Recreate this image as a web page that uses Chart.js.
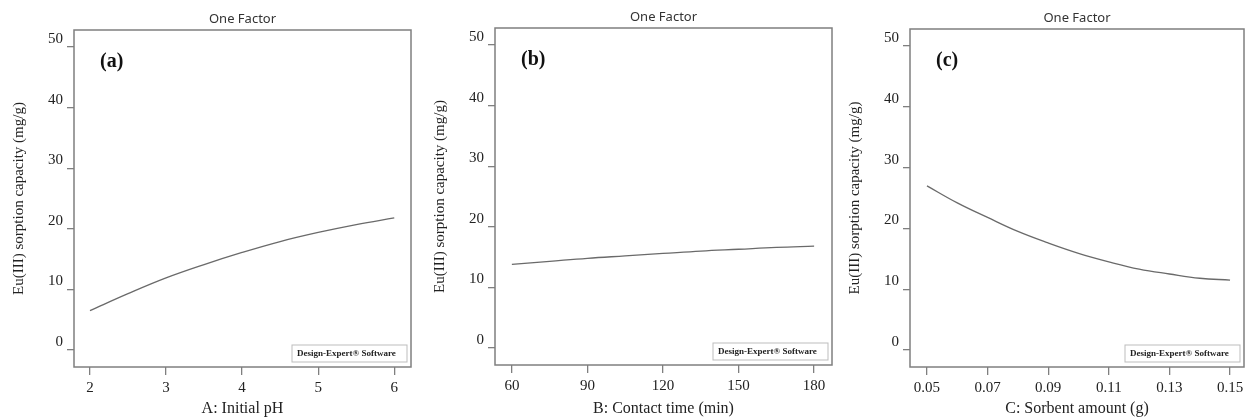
<!DOCTYPE html>
<html>
<head>
    <title>One Factor plots</title>
    <script src="https://cdn.jsdelivr.net/npm/chart.js"></script>
    <style>
        body { margin: 0; background: #fff; }
        #wrap { position: relative; width: 1245px; height: 418px; }
        .panel { position: absolute; top: 0; height: 418px; }
    </style>
</head>
<body>
<div id="wrap">
    <div class="panel" style="left:0; width:418px;"><canvas id="chartA"></canvas></div>
    <div class="panel" style="left:421px; width:415px;"><canvas id="chartB"></canvas></div>
    <div class="panel" style="left:836px; width:409px;"><canvas id="chartC"></canvas></div>
</div>
<script>
// values
const yTicks = [0, 10, 20, 30, 40, 50];

const phX = [2, 2.5, 3, 3.5, 4, 4.5, 5, 5.5, 6];
const phY = [6.5, 9.3, 11.9, 14.1, 16.1, 17.9, 19.4, 20.7, 21.8];
const phTicks = [2, 3, 4, 5, 6];

const timeX = [60, 75, 90, 105, 120, 135, 150, 165, 180];
const timeY = [13.8, 14.3, 14.8, 15.2, 15.6, 16.0, 16.3, 16.6, 16.8];
const timeTicks = [60, 90, 120, 150, 180];

const sorbX = [0.05, 0.06, 0.07, 0.08, 0.09, 0.10, 0.11, 0.12, 0.13, 0.14, 0.15];
const sorbY = [27.0, 24.2, 21.8, 19.5, 17.6, 15.9, 14.5, 13.3, 12.5, 11.8, 11.5];
const sorbTicks = [0.05, 0.07, 0.09, 0.11, 0.13, 0.15];

const serif = "'Times New Roman', 'Liberation Serif', serif";
const axisGray = '#7f7f7f';

// frame around the plot, panel letter and the software tag
const framePlugin = {
    id: 'frame',
    afterDraw(chart, args, opts) {
        const { ctx, chartArea: a } = chart;
        ctx.save();
        ctx.strokeStyle = axisGray;
        ctx.lineWidth = 1.5;
        ctx.strokeRect(a.left, a.top, a.right - a.left, a.bottom - a.top);

        ctx.fillStyle = '#111';
        ctx.font = 'bold 20px ' + serif;
        ctx.textBaseline = 'middle';
        ctx.fillText(opts.letter, a.left + 26, a.top + 32);

        const bw = 115, bh = 17;
        const bx = a.right - 4 - bw, by = a.bottom - 5 - bh;
        ctx.strokeStyle = '#bdbdbd';
        ctx.lineWidth = 1;
        ctx.strokeRect(bx, by, bw, bh);
        ctx.font = 'bold 9px ' + serif;
        ctx.fillStyle = '#222';
        ctx.fillText('Design-Expert\u00ae Software', bx + 5, by + bh / 2 + 0.5);
        ctx.restore();
    }
};

function makePanel(id, xs, ys, ticksX, cfg) {
    const points = xs.map((x, i) => ({ x: x, y: ys[i] }));
    const H = 418;
    return new Chart(document.getElementById(id), {
        type: 'scatter',
        data: {
            datasets: [{
                data: points,
                showLine: true,
                borderColor: '#6a6a6a',
                borderWidth: 1.3,
                pointRadius: 0,
                tension: 0.4,
                fill: false
            }]
        },
        options: {
            responsive: true,
            maintainAspectRatio: false,
            animation: false,
            layout: { padding: { left: 0, right: cfg.padRight, top: 0, bottom: 0 } },
            plugins: {
                legend: { display: false },
                tooltip: { enabled: false },
                title: {
                    display: true,
                    text: 'One Factor',
                    fullSize: false,
                    color: '#333',
                    font: { family: "'Noto Sans', sans-serif", size: 13, weight: 'normal' },
                    padding: { top: cfg.top - 18.8, bottom: 18.8 - 15.6 }
                },
                frame: { letter: cfg.letter }
            },
            scales: {
                x: {
                    type: 'linear',
                    min: cfg.xMin,
                    max: cfg.xMax,
                    afterBuildTicks: s => { s.ticks = ticksX.map(v => ({ value: v })); },
                    afterFit: s => { s.height = H - cfg.bottom; s.paddingLeft = 0; s.paddingRight = 0; },
                    grid: { drawOnChartArea: false, drawTicks: true, tickLength: 8, color: axisGray, lineWidth: 1.3 },
                    border: { display: false },
                    ticks: {
                        padding: 4,
                        color: '#222',
                        font: { family: serif, size: 15 },
                        callback: cfg.fmt
                    },
                    title: {
                        display: true,
                        text: cfg.xTitle,
                        color: '#222',
                        font: { family: serif, size: 16 },
                        padding: { top: 0, bottom: 0 }
                    }
                },
                y: {
                    type: 'linear',
                    min: -2.8,
                    max: 52.8,
                    afterBuildTicks: s => { s.ticks = yTicks.map(v => ({ value: v })); },
                    afterFit: s => { s.width = 74; s.paddingTop = 0; s.paddingBottom = 0; },
                    grid: { drawOnChartArea: false, drawTicks: true, tickLength: 7, color: axisGray, lineWidth: 1.3 },
                    border: { display: false },
                    ticks: {
                        padding: 4,
                        labelOffset: -8,
                        color: '#222',
                        font: { family: serif, size: 15 }
                    },
                    title: {
                        display: true,
                        text: 'Eu(III) sorption capacity (mg/g)',
                        color: '#222',
                        font: { family: serif, size: 15 },
                        padding: { top: 10, bottom: 0 }
                    }
                }
            }
        },
        plugins: [framePlugin]
    });
}

makePanel('chartA', phX, phY, phTicks, {
    letter: '(a)', xTitle: 'A: Initial pH', xMin: 1.79, xMax: 6.22,
    top: 30, bottom: 367, padRight: 7, fmt: v => String(v)
});
makePanel('chartB', timeX, timeY, timeTicks, {
    letter: '(b)', xTitle: 'B: Contact time (min)', xMin: 53.3, xMax: 187.1,
    top: 28, bottom: 365, padRight: 4, fmt: v => String(v)
});
makePanel('chartC', sorbX, sorbY, sorbTicks, {
    letter: '(c)', xTitle: 'C: Sorbent amount (g)', xMin: 0.0444, xMax: 0.1546,
    top: 29, bottom: 367, padRight: 1, fmt: v => v.toFixed(2)
});
</script>
</body>
</html>
